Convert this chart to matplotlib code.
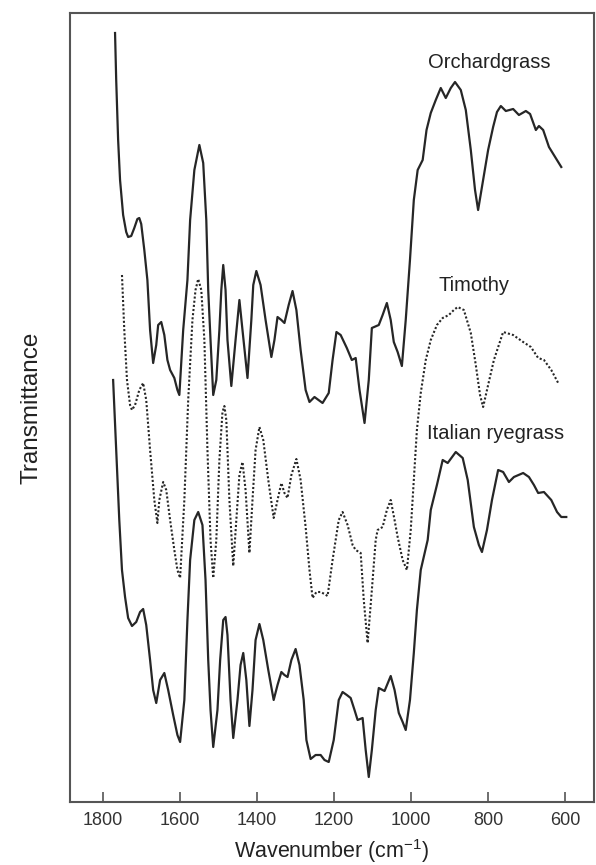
import matplotlib
matplotlib.use("Agg")
import matplotlib.pyplot as plt

plt.rcParams['font.family'] = ['Liberation Sans', 'DejaVu Sans']
plt.rcParams['mathtext.fontset'] = 'custom'
plt.rcParams['mathtext.rm'] = 'Liberation Sans'
plt.rcParams['mathtext.default'] = 'rm'

# ---- data (wavenumber, transmittance in arbitrary units) ----
orchard_wn = [1769, 1766, 1761, 1756, 1748, 1740, 1735, 1727, 1719, 1711, 1706, 1701, 1693, 1685,
              1678, 1670, 1662, 1657, 1649, 1641, 1633, 1626, 1615, 1607, 1602, 1592, 1581, 1574,
              1563, 1550, 1540, 1532, 1527, 1521, 1514, 1506, 1498, 1493, 1488, 1482, 1477, 1467,
              1456, 1446, 1438, 1425, 1415, 1410, 1402, 1391, 1378, 1363, 1355, 1347, 1337, 1329,
              1318, 1308, 1298, 1287, 1274, 1264, 1251, 1230, 1214, 1204, 1194, 1183, 1167, 1154,
              1144, 1134, 1121, 1110, 1102, 1084, 1074, 1063, 1053, 1045, 1035, 1024, 1014, 1003,
              993, 983, 970, 960, 949, 936, 923, 910, 897, 886, 871, 858, 845, 834, 826, 813, 800,
              787, 777, 767, 754, 735, 720, 702, 691, 676, 668, 657, 642, 626, 610]
orchard_t = [769, 722, 662, 622, 587, 570, 565, 566, 574, 583, 584, 578, 552, 522,
             472, 439, 457, 477, 480, 467, 442, 432, 424, 412, 407, 472, 522, 582,
             632, 657, 639, 582, 512, 462, 407, 422, 472, 512, 537, 512, 462, 416,
             462, 502, 472, 424, 482, 517, 531, 517, 482, 445, 462, 485, 482, 479,
             497, 511, 492, 452, 412, 400, 405, 399, 409, 442, 470, 467, 454, 442,
             444, 412, 379, 422, 474, 477, 487, 499, 482, 460, 450, 436, 482, 542,
             602, 632, 642, 672, 689, 702, 714, 704, 714, 720, 712, 692, 652, 612, 592, 622, 652,
             675, 690, 696, 691, 693, 687, 691, 688, 672, 676, 672, 655, 645, 635]

timothy_wn = [1751, 1745, 1738, 1730, 1725, 1717, 1706, 1696, 1688, 1678, 1667, 1659, 1654, 1644,
              1636, 1626, 1615, 1607, 1600, 1589, 1579, 1568, 1560, 1553, 1545, 1537, 1529, 1521,
              1514, 1506, 1498, 1490, 1485, 1480, 1472, 1462, 1454, 1446, 1438, 1430, 1420, 1412,
              1404, 1394, 1384, 1371, 1357, 1347, 1337, 1329, 1321, 1311, 1298, 1287, 1274, 1264,
              1256, 1246, 1235, 1225, 1217, 1204, 1188, 1178, 1165, 1152, 1144, 1131, 1123, 1113,
              1102, 1092, 1087, 1074, 1063, 1053, 1043, 1035, 1022, 1011, 1001, 993, 985, 975,
              962, 949, 933, 918, 902, 889, 879, 863, 845, 832, 821, 813, 800, 785, 761, 735,
              709, 689, 670, 655, 636, 618]
timothy_t = [527, 472, 422, 397, 392, 397, 412, 419, 402, 352, 302, 279, 302, 320,
             312, 282, 252, 232, 224, 302, 402, 482, 512, 523, 512, 462, 352, 262,
             224, 262, 342, 390, 396, 382, 302, 236, 282, 327, 340, 312, 249, 302,
             352, 375, 362, 322, 284, 302, 319, 309, 304, 327, 343, 322, 275, 232,
             204, 210, 210, 208, 206, 242, 282, 290, 277, 257, 252, 249, 202, 159,
             212, 262, 272, 275, 292, 302, 282, 265, 242, 232, 272, 322, 372, 409,
             442, 462, 477, 484, 487, 492, 495, 492, 469, 437, 407, 395, 417, 442, 470, 467,
             460, 455, 444, 442, 432, 419]

italian_wn = [1774, 1766, 1758, 1751, 1743, 1735, 1725, 1714, 1704, 1696, 1688, 1678, 1670, 1662,
              1652, 1641, 1631, 1618, 1607, 1600, 1589, 1581, 1574, 1563, 1553, 1542, 1534, 1527,
              1521, 1514, 1503, 1496, 1488, 1482, 1477, 1469, 1462, 1451, 1443, 1436, 1428, 1420,
              1412, 1404, 1394, 1384, 1371, 1357, 1347, 1337, 1329, 1321, 1311, 1300, 1290, 1279,
              1272, 1261, 1248, 1235, 1225, 1214, 1201, 1188, 1178, 1167, 1157, 1147, 1139, 1126,
              1118, 1110, 1102, 1092, 1084, 1069, 1053, 1043, 1032, 1022, 1014, 1003, 993, 985,
              975, 957, 949, 933, 918, 905, 884, 866, 853, 837, 824, 816, 803, 790, 774, 761,
              746, 733, 709, 694, 681, 670, 655, 636, 621, 610, 597]
italian_t = [422, 352, 282, 232, 205, 184, 176, 180, 190, 193, 177, 142, 112, 99,
             122, 129, 112, 87, 67, 60, 102, 182, 242, 282, 290, 277, 222, 142,
             92, 55, 92, 142, 182, 185, 167, 102, 64, 102, 137, 149, 122, 76,
             112, 162, 178, 162, 132, 102, 117, 130, 127, 125, 142, 153, 137, 102,
             62, 43, 47, 47, 42, 40, 62, 102, 110, 107, 104, 92, 82, 84,
             52, 25, 52, 92, 114, 111, 126, 112, 89, 80, 72, 102, 149, 192,
             232, 262, 292, 317, 342, 339, 350, 344, 322, 275, 257, 250, 272, 302, 332, 330,
             320, 325, 329, 325, 317, 309, 310, 302, 290, 285, 285]

names = ["Orchardgrass", "Timothy", "Italian ryegrass"]
label_pos_wn = [798, 837, 780]
label_pos_t = [740, 517, 369]

xticks = [1800, 1600, 1400, 1200, 1000, 800, 600]

# ---- figure ----
fig = plt.figure(figsize=(5.96, 8.65), dpi=100)
ax = fig.add_axes([70 / 596, 63 / 865, 524 / 596, 789 / 865])

ink = '#262626'
ax.plot(orchard_wn, orchard_t, color=ink, lw=1.6, solid_joinstyle='round')
ax.plot(timothy_wn, timothy_t, color=ink, lw=1.5, linestyle=(0, (1, 1)))
ax.plot(italian_wn, italian_t, color=ink, lw=1.6, solid_joinstyle='round')

for n, xw, yt in zip(names, label_pos_wn, label_pos_t):
    ax.text(xw, yt, n, ha='center', va='center', fontsize=14.5, color='#222222')

ax.set_xlim(1886, 525)
ax.set_ylim(0, 789)
ax.set_xticks(xticks)
ax.set_xticklabels([str(t) for t in xticks], fontsize=13, color='#333333')
ax.set_yticks([])
ax.tick_params(axis='x', direction='in', length=7, width=1.2, color='#555555', pad=7)
for s in ax.spines.values():
    s.set_color('#555555')
    s.set_linewidth(1.5)

ax.set_xlabel('Wavenumber (cm$^{-1}$)', fontsize=15.5, color='#222222', labelpad=6)
ax.set_ylabel('Transmittance', fontsize=17.5, color='#222222', labelpad=20)

fig.savefig('out.png', dpi=100, facecolor='white')
